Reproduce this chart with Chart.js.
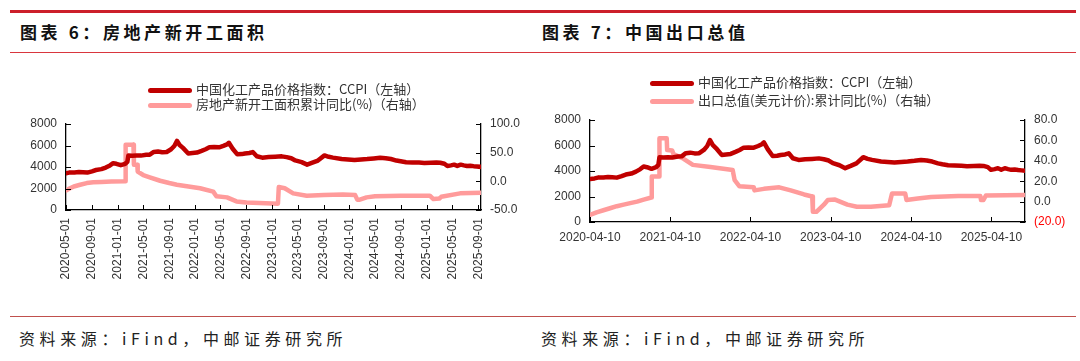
<!DOCTYPE html>
<html>
<head>
<meta charset="utf-8">
<script src="https://cdn.jsdelivr.net/npm/chart.js@4.4.1/dist/chart.umd.min.js"></script>
<style>
  html, body { margin: 0; padding: 0; background: #fff; }
  body { width: 1080px; height: 361px; position: relative; overflow: hidden;
         font-family: "Noto Sans CJK SC", "Liberation Sans", sans-serif; }
  .rule { position: absolute; left: 10px; width: 1066px; }
  .title { position: absolute; top: 19px; font-size: 17px; font-weight: bold; letter-spacing: 3.6px; color: #111; white-space: nowrap; }
  .source { position: absolute; top: 326px; font-size: 16px; letter-spacing: 4.6px; color: #222; white-space: nowrap; }
  .panel { position: absolute; top: 0; width: 540px; height: 300px; }
  .legend-row { position: absolute; height: 16px; white-space: nowrap; font-size: 13px; color: #333; }
  .legend-row .swatch { position: absolute; left: 0; top: 5.5px; width: 44px; height: 5px; border-radius: 3px; }
  .legend-row .txt { position: absolute; top: -1px; line-height: 16px; }
</style>
</head>
<body>

<div class="rule" style="top:10px;height:3px;background:#CC1F2A;"></div>
<div class="rule" style="top:52px;height:1px;background:#D9363E;"></div>
<div class="rule" style="top:316px;height:1px;background:#C0504D;"></div>

<div class="title" style="left:20px;">图表 6：房地产新开工面积</div>
<div class="title" style="left:542px;">图表 7：中国出口总值</div>

<div class="panel" style="left:0;"><canvas id="chartLeft" width="540" height="300"></canvas></div>
<div class="panel" style="left:540px;"><canvas id="chartRight" width="540" height="300"></canvas></div>
<div id="legendLeft"></div>
<div id="legendRight"></div>

<div class="source" style="left:19px;">资料来源：iFind，中邮证券研究所</div>
<div class="source" style="left:541px;">资料来源：iFind，中邮证券研究所</div>

<script>
/* ===============================
   DATA
================================*/
// CCPI (left axis in both charts)
const ccpiDates = [
  '2020-04-10','2020-05-01','2020-05-20','2020-06-10','2020-07-01','2020-07-20','2020-08-10','2020-09-01','2020-09-20','2020-10-15','2020-11-05','2020-11-25','2020-12-10','2020-12-25',
  '2021-01-15','2021-02-05','2021-02-15','2021-02-20','2021-03-10','2021-03-31','2021-04-20','2021-05-15','2021-06-01','2021-06-20','2021-07-10','2021-07-30','2021-08-20','2021-09-10','2021-09-25','2021-10-08','2021-10-20','2021-11-05','2021-11-30','2021-12-20',
  '2022-01-10','2022-02-01','2022-02-20','2022-03-10','2022-04-01','2022-04-25','2022-05-15','2022-06-01','2022-06-10','2022-06-28','2022-07-20','2022-08-10','2022-08-25','2022-09-15','2022-10-01','2022-10-20','2022-11-15','2022-12-15',
  '2023-01-15','2023-02-15','2023-03-10','2023-04-01','2023-04-20','2023-05-20','2023-06-15','2023-07-10','2023-08-05','2023-09-05','2023-09-25','2023-10-15','2023-11-25','2023-12-25',
  '2024-01-25','2024-02-25','2024-03-25','2024-04-25','2024-05-25','2024-06-20','2024-07-15','2024-08-10','2024-08-30','2024-09-25','2024-10-25','2024-11-25','2024-12-20',
  '2025-01-20','2025-02-15','2025-03-05','2025-03-25','2025-04-08','2025-04-25','2025-05-10','2025-05-25','2025-06-10','2025-06-25','2025-07-10','2025-07-25','2025-08-10','2025-08-25','2025-09-15'
];
const ccpiValues = [
  3380,3420,3500,3490,3530,3510,3480,3600,3720,3800,3950,4150,4350,4300,
  4170,4300,4480,5080,5050,5080,5060,5130,5150,5400,5440,5380,5400,5650,5950,6430,6050,5780,5260,5300,
  5340,5500,5650,5830,5850,5830,5960,6100,6250,5700,5180,5200,5260,5300,5390,5000,4870,4920,
  4950,4990,4920,4820,4610,4450,4220,4400,4600,5080,4950,4870,4740,4700,
  4660,4700,4740,4800,4870,4820,4740,4600,4530,4450,4430,4410,4380,
  4400,4420,4400,4300,4090,4150,4220,4100,4220,4150,4090,4120,4080,4050,4010
];

// Housing new starts, cumulative YoY % (left chart, right axis)
const startsDates = [
  '2020-05-01','2020-05-15','2020-06-07','2020-07-07','2020-08-07','2020-09-07','2020-10-15','2020-12-01',
  '2021-02-04','2021-02-07','2021-03-16','2021-03-18','2021-04-03','2021-04-05','2021-05-01','2021-06-01','2021-07-20','2021-09-01','2021-10-07','2021-12-01',
  '2022-01-25','2022-03-28','2022-04-12','2022-06-01','2022-07-16','2022-09-01','2022-11-01',
  '2023-01-28','2023-02-01','2023-03-01','2023-04-10','2023-06-13','2023-09-01','2023-12-01',
  '2024-01-28','2024-02-07','2024-02-19','2024-03-22','2024-05-01','2024-09-01',
  '2025-01-15','2025-02-01','2025-03-01','2025-03-10','2025-06-07','2025-09-15'
];
const startsValues = [
  -16,-13,-9,-6,-3,-1.5,-1,-0.5,
  0,64,64,29,29,17,11,7,1,-3,-6,-9,
  -12,-18,-26,-28,-35,-37,-38,
  -39,-10,-12,-21,-25,-24,-23,
  -24,-32,-32,-28,-26,-25,
  -25,-31,-30,-27,-21,-20
];

// Exports (USD), cumulative YoY % (right chart, right axis)
const exportDates = [
  '2020-04-10','2020-05-10','2020-06-10','2020-07-10','2020-08-10','2020-09-10','2020-10-10','2020-11-10','2020-12-10',
  '2021-01-14','2021-01-16','2021-02-18','2021-02-20','2021-03-25','2021-03-27','2021-04-19','2021-04-25','2021-06-10','2021-07-22','2021-10-10',
  '2022-01-19','2022-01-28','2022-02-19','2022-04-25','2022-04-28','2022-06-10','2022-08-19','2022-10-10','2022-12-10',
  '2023-01-16','2023-01-19','2023-02-04','2023-03-10','2023-03-28','2023-04-30','2023-06-25','2023-08-07','2023-10-10',
  '2024-01-01','2024-01-14','2024-03-14','2024-03-20','2024-05-10','2024-07-10','2024-11-10',
  '2025-02-19','2025-02-22','2025-03-05','2025-03-16','2025-09-10'
];
const exportValues = [
  -13,-10.5,-8.5,-6.5,-4.5,-3,-1.5,0,2,
  4,24.5,24.5,62,62,50.5,50,46.5,42,36,34,
  31,21,15,14,11,12.5,14,11,7,
  5,-10,-10,-3,1.5,2,-3,-5,-5,
  -3.5,8,8,1.5,3,4.5,5.5,
  5.5,1.5,1.5,6,6.5
];

// axis ticks
const leftTickDates = ['2020-05-01','2020-09-01','2021-01-01','2021-05-01','2021-09-01','2022-01-01','2022-05-01','2022-09-01',
  '2023-01-01','2023-05-01','2023-09-01','2024-01-01','2024-05-01','2024-09-01','2025-01-01','2025-05-01','2025-09-01'];
const rightTickDates = ['2020-04-10','2021-04-10','2022-04-10','2023-04-10','2024-04-10','2025-04-10'];
const leftRange = ['2020-05-01', '2025-09-14'];
const rightRange = ['2020-04-10', '2025-09-10'];

const ccpiLabel = '中国化工产品价格指数：CCPI（左轴）';
const startsLabel = '房地产新开工面积累计同比(%)（右轴）';
const exportLabel = '出口总值(美元计价):累计同比(%)（右轴）';

/* ===============================
   HELPERS
================================*/
const DAY = 86400000;
function dayOf(d) { return Date.parse(d + 'T00:00:00Z') / DAY; }
function toPoints(dates, values) { return dates.map((d, i) => ({ x: dayOf(d), y: values[i] })); }

const DARK = '#C00000';
const PINK = '#FF9B9B';
const tickFont = { family: '"Liberation Sans", Arial, sans-serif', size: 12 };
const tickColor = '#333';

// inward tick marks, drawn from the library's own scales
const innerTicks = {
  id: 'innerTicks',
  afterDraw(chart) {
    const ctx = chart.ctx, a = chart.chartArea;
    ctx.save();
    ctx.strokeStyle = '#000';
    ctx.lineWidth = 1;
    Object.values(chart.scales).forEach(s => {
      s.ticks.forEach((t, i) => {
        const p = Math.round(s.getPixelForTick(i)) + 0.5;
        ctx.beginPath();
        if (s.axis === 'x') { ctx.moveTo(p, a.bottom); ctx.lineTo(p, a.bottom - 5); }
        else if (s.position === 'left') { ctx.moveTo(a.left, p); ctx.lineTo(a.left + 5, p); }
        else { ctx.moveTo(a.right, p); ctx.lineTo(a.right - 5, p); }
        ctx.stroke();
      });
    });
    ctx.restore();
  }
};

function lineSet(label, data, color, axis) {
  return { label, data, borderColor: color, backgroundColor: color, borderWidth: 4.5,
           pointRadius: 0, tension: 0, borderJoinStyle: 'round', borderCapStyle: 'round', yAxisID: axis };
}

function yAxis(position, min, max, step, width, fmt, color) {
  return {
    position, min, max,
    grid: { display: false, drawTicks: false },
    border: { display: true, color: '#000', width: 1.3 },
    ticks: { stepSize: step, padding: 9, font: tickFont, color: color || tickColor, callback: fmt },
    afterFit: s => { s.width = width; }
  };
}

function buildChart(id, cfg) {
  return new Chart(document.getElementById(id), {
    type: 'line',
    data: { datasets: cfg.datasets },
    options: {
      responsive: false,
      animation: false,
      events: [],
      layout: { padding: { top: cfg.top, left: 0, right: 0, bottom: 0 } },
      plugins: { legend: { display: false }, tooltip: { enabled: false } },
      scales: {
        x: {
          type: 'linear',
          min: dayOf(cfg.range[0]), max: dayOf(cfg.range[1]),
          grid: { display: false, drawTicks: false },
          border: { display: true, color: '#000', width: 1.3 },
          afterBuildTicks: s => { s.ticks = cfg.tickDates.map(d => ({ value: dayOf(d) })); },
          ticks: {
            autoSkip: false, padding: cfg.xPad, font: tickFont, color: tickColor,
            minRotation: cfg.rotate, maxRotation: cfg.rotate,
            callback: (v, i) => cfg.tickDates[i]
          },
          afterFit: s => { s.height = cfg.xHeight; }
        },
        y: cfg.yLeft,
        y1: cfg.yRight
      }
    },
    plugins: [innerTicks]
  });
}

function drawLegend(el, chart, left, rows) {
  chart.data.datasets.forEach((ds, i) => {
    const row = document.createElement('div');
    row.className = 'legend-row';
    row.style.left = left + 'px';
    row.style.top = (rows[i] - 8) + 'px';
    row.innerHTML = '<div class="swatch" style="background:' + ds.borderColor + '"></div>' +
                    '<span class="txt" style="left:48px">' + ds.label + '</span>';
    el.appendChild(row);
  });
}

/* ===============================
   CHART 6: housing new starts
================================*/
const leftChart = buildChart('chartLeft', {
  datasets: [
    lineSet(ccpiLabel, toPoints(ccpiDates, ccpiValues), DARK, 'y'),
    lineSet(startsLabel, toPoints(startsDates, startsValues), PINK, 'y1')
  ],
  range: leftRange, tickDates: leftTickDates,
  top: 124, xHeight: 90, xPad: 8, rotate: 90,
  yLeft: yAxis('left', 0, 8000, 2000, 66, v => v),
  yRight: yAxis('right', -50, 100, 50, 59, v => v.toFixed(1))
});

/* ===============================
   CHART 7: exports
================================*/
const rightChart = buildChart('chartRight', {
  datasets: [
    lineSet(ccpiLabel, toPoints(ccpiDates, ccpiValues), DARK, 'y'),
    lineSet(exportLabel, toPoints(exportDates, exportValues), PINK, 'y1')
  ],
  range: rightRange, tickDates: rightTickDates,
  top: 120, xHeight: 78, xPad: 8, rotate: 0,
  yLeft: yAxis('left', 0, 8000, 2000, 50, v => v),
  yRight: yAxis('right', -20, 80, 20, 55,
    v => v < 0 ? '(' + Math.abs(v).toFixed(1) + ')' : v.toFixed(1),
    c => (c.tick && c.tick.value < 0) ? '#FF0000' : tickColor)
});

drawLegend(document.getElementById('legendLeft'), leftChart, 148, [90, 105]);
drawLegend(document.getElementById('legendRight'), rightChart, 650, [83, 101]);
</script>
</body>
</html>
